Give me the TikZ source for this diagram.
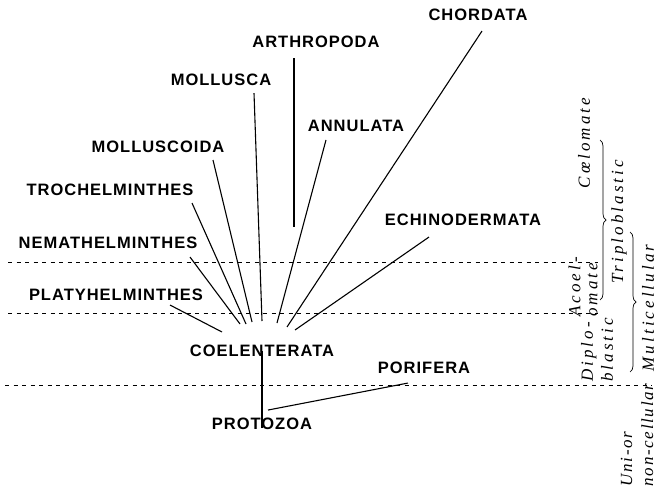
\documentclass[tikz,border=0pt]{standalone}
\usepackage{fontspec}
\newfontfamily\taxonfont[LetterSpace=6]{Liberation Sans}
\newfontfamily\gradefont[LetterSpace=18]{Liberation Serif}
\usetikzlibrary{positioning,decorations.pathreplacing}

\begin{document}
\begin{tikzpicture}[x=1pt, y=-1pt,
    taxon/.style={inner sep=0pt, font=\taxonfont\bfseries\fontsize{16.5}{18}\selectfont},
    grade/.style={rotate=90, inner sep=0pt, align=left, font=\gradefont\itshape\fontsize{17}{20}\selectfont},
    branch/.style={line width=1.1pt},
    level/.style={line width=0.8pt, dash pattern=on 4pt off 4.5pt},
    group/.style={line width=0.7pt, decorate, decoration={brace, amplitude=6pt}}
]
\useasboundingbox (0,0) rectangle (658,489);
% phyla
\node[taxon] (chordata) at (478,15) {CHORDATA};
\node[taxon] (arthropoda) at (316,42) {ARTHROPODA};
\node[taxon] (mollusca) at (221,80) {MOLLUSCA};
\node[taxon] (annulata) at (356,126) {ANNULATA};
\node[taxon] (molluscoida) at (158,147) {MOLLUSCOIDA};
\node[taxon] (trochelminthes) at (110,190) {TROCHELMINTHES};
\node[taxon] (nemathelminthes) at (108,243) {NEMATHELMINTHES};
\node[taxon] (platyhelminthes) at (116,295) {PLATYHELMINTHES};
\node[taxon] (echinodermata) at (463,220) {ECHINODERMATA};
\node[taxon] (coelenterata) at (262,351) {COELENTERATA};
\node[taxon, below=61pt of coelenterata] (protozoa) {PROTOZOA};
\node[taxon] (porifera) at (424,368) {PORIFERA};
% where the branches meet
\coordinate (p1) at (222,332);
\coordinate (p2) at (240,324);
\coordinate (p3) at (246,324);
\coordinate (p4) at (252,322);
\coordinate (p5) at (262,321);
\coordinate (p6) at (294,227);
\coordinate (p7) at (277,323);
\coordinate (p8) at (287,327);
\coordinate (p9) at (295,330);
\draw[branch] ([shift={(54,4)}]platyhelminthes.south) -- (p1);
\draw[branch] ([shift={(82,8)}]nemathelminthes.south) -- (p2);
\draw[branch] ([shift={(82,7)}]trochelminthes.south) -- (p3);
\draw[branch] ([shift={(55,7)}]molluscoida.south) -- (p4);
\draw[branch] ([shift={(33,7)}]mollusca.south) -- (p5);
\draw[branch] ([shift={(-22,10)}]arthropoda.south) -- (p6);
\draw[branch] ([shift={(-30,8)}]annulata.south) -- (p7);
\draw[branch] ([shift={(4,10)}]chordata.south) -- (p8);
\draw[branch] ([shift={(-34,11)}]echinodermata.south) -- (p9);
\draw[branch] ([yshift=6]coelenterata.south) -- ([yshift=-10]protozoa.north);
\draw[branch] ([shift={(6,-8)}]protozoa.north) -- ([shift={(-16,9)}]porifera.south);
% grades
\draw[level] (8,262) -- (598,262);
\draw[level] (8,313) -- (598,313);
\draw[level] (5,385) -- (652,385);
\node[grade] (coelomate) at (584,143) {Cœlomate};
\node[grade, font=\gradefont\itshape\fontsize{17}{17}\selectfont] (acoelomate) at (583,287) {Acoel-\\omate};
\node[grade] (diploblastic) at (597,350) {Diplo-\\blastic};
\node[grade] (triploblastic) at (619,222) {Triploblastic};
\node[grade] (multicellular) at (648,308) {Multicellular};
\node[grade, font=\gradefont\itshape\fontsize{17}{21}\selectfont\addfontfeature{LetterSpace=10}] (unicellular) at (637,435) {Uni-or\\non-cellular};
\draw[group] (600,140) -- (600,300);
\draw[group] (630,232) -- (630,372);
\end{tikzpicture}
\end{document}
